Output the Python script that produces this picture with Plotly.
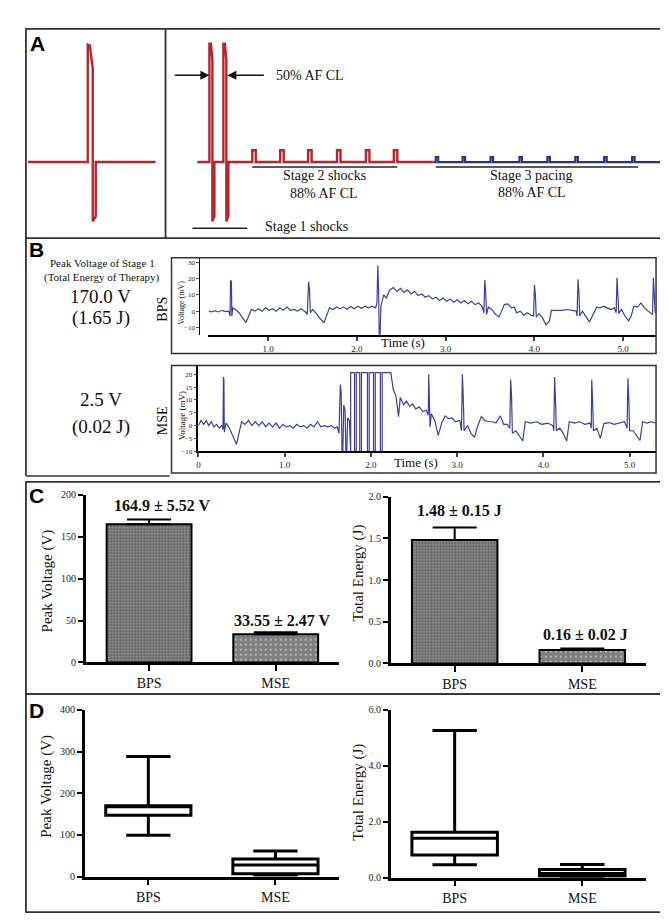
import plotly.graph_objects as go

W, H = 668, 924
def px(x): return x / W
def py(y): return 1 - y / H

SERIF = "Liberation Serif"
RED = "#b8262c"
NAVY = "#2b2f8f"
ECG = "#3d4199"

# ---------------- Panel A : schematic waveforms (arbitrary time / amplitude units)
single_shock_t = [2, 62, 62, 64, 67, 67, 70, 70, 130]
single_shock_v = [0, 0, 119, 118, 95, -60, -55, 0, 0]

stage1_onsets = [44, 58]
stage1_peak, stage1_tail, stage1_trough, stage1_trough_end = 120, 103, -60, -55
stage2_onsets = [87, 115, 143, 172, 201, 229]
stage2_amp = 12
stage3_onsets = [271, 298, 326, 355, 383, 411, 440, 468]
stage3_amp = 5
therapy_start, stage3_start, trace_end = 32, 269, 496

# ---------------- Panel B : electrograms (time s, voltage mV)
bps_trace = [(0.33,0),(0.36,-0.5),(0.40,0.3),(0.44,-0.5),(0.48,0.5),(0.52,-0.3),(0.555,0),(0.57,-3),(0.575,19),(0.585,18),(0.59,-3),
 (0.60,2),(0.63,1),(0.67,-1),(0.71,-4),(0.75,-7),(0.78,-3),(0.81,1),(0.85,0),(0.89,1.5),(0.93,0),(0.97,2),(1.01,0.5),(1.05,1.5),
 (1.09,0),(1.13,2),(1.17,0.5),(1.21,2.5),(1.25,0.5),(1.29,1),(1.33,0),(1.37,1.5),(1.41,0),(1.44,-2),(1.455,18),(1.465,13),(1.475,-1),
 (1.50,1),(1.55,-2),(1.59,-5),(1.63,-7),(1.66,-2),(1.69,2),(1.73,1),(1.77,2.5),(1.81,1.5),(1.85,2.5),(1.89,1.2),(1.93,2.8),(1.97,1.5),
 (2.01,3),(2.05,1.8),(2.09,3),(2.13,2),(2.17,3),(2.21,2),(2.225,5),(2.235,28),(2.245,10),(2.25,-14.5),(2.26,-14.5),(2.27,3),(2.30,10),
 (2.33,8),(2.37,13),(2.41,14.5),(2.45,12),(2.49,14),(2.53,11.5),(2.57,13),(2.61,10.5),(2.65,12),(2.69,9.5),(2.73,10.5),(2.77,8.5),
 (2.81,9.5),(2.85,7.5),(2.89,8.5),(2.93,6.5),(2.97,8),(3.01,6),(3.05,7.5),(3.09,5.5),(3.13,7),(3.17,5),(3.21,6.5),(3.25,4.5),(3.29,6),
 (3.33,4),(3.37,5),(3.41,3),(3.43,-1),(3.44,19),(3.45,12),(3.46,-2),(3.48,2.5),(3.52,1),(3.56,-2),(3.60,-3.5),(3.63,0),(3.66,4),
 (3.70,4.5),(3.74,2),(3.77,2.5),(3.80,-1),(3.84,0),(3.88,-2.5),(3.92,-1),(3.96,-2.5),(3.99,-3),(4.00,16),(4.01,10),(4.02,-3.5),
 (4.05,-1.5),(4.09,-4),(4.13,-8.5),(4.17,-6),(4.19,0.5),(4.25,0.5),(4.31,0.5),(4.37,1),(4.43,0.5),(4.47,0),(4.48,-3),(4.49,19.5),
 (4.50,12),(4.51,-3),(4.54,0),(4.58,-3),(4.62,-6.7),(4.66,-2),(4.70,2.4),(4.74,2),(4.78,3),(4.82,2),(4.86,1),(4.90,2),(4.92,-1),
 (4.93,20.5),(4.94,10),(4.95,-1.5),(4.98,1),(5.02,-3),(5.06,-6),(5.09,-3),(5.12,3),(5.16,2.5),(5.20,5),(5.24,2),(5.28,0),(5.31,-1),
 (5.33,-2),(5.34,20.5),(5.35,8),(5.36,-1),(5.37,0)]

mse_trace = [(0.00,0),(0.03,2),(0.06,0.5),(0.09,2),(0.12,0),(0.15,1.5),(0.18,-0.5),(0.21,0.5),(0.24,-1),(0.27,0),(0.285,-1.5),
 (0.29,19),(0.295,18),(0.30,-2.5),(0.32,1),(0.36,-1),(0.40,-4),(0.44,-7.3),(0.47,-3),(0.50,1.5),(0.54,0.5),(0.58,2),(0.62,0),
 (0.66,1.5),(0.70,0),(0.74,1.5),(0.78,-0.5),(0.82,1),(0.86,-0.5),(0.90,1),(0.94,-1),(0.98,0.5),(1.02,-0.5),(1.06,0),(1.10,-1),
 (1.14,0.5),(1.18,-0.5),(1.22,0),(1.26,-1),(1.30,0.5),(1.34,-0.5),(1.38,1.5),(1.42,-0.5),(1.46,0),(1.50,-0.5),(1.54,0),(1.58,-1),
 (1.61,-0.5),(1.63,-3),(1.645,16),(1.655,13),(1.665,-10),(1.675,-10),(1.685,8),(1.70,6),(1.71,-10),(1.72,-10),(1.73,3),(1.75,2),
 (1.765,-10),(1.765,20.7),(1.81,20.7),(1.81,-10),(1.83,-10),(1.83,20.7),(1.87,20.7),(1.87,-10),(1.89,-10),(1.89,20.7),(1.96,20.7),
 (1.96,-10),(1.98,-10),(1.98,20.7),(2.03,20.7),(2.03,-10),(2.05,-10),(2.05,20.7),(2.11,20.7),(2.11,-10),(2.13,-10),(2.13,20.7),
 (2.23,20.7),(2.26,14),(2.29,11.5),(2.32,3.5),(2.34,11),(2.38,8),(2.41,9.6),(2.45,7.5),(2.48,8.5),(2.52,6.5),(2.56,7.3),(2.60,5.5),
 (2.64,6),(2.665,4),(2.67,20),(2.675,14),(2.685,-0.5),(2.70,4.6),(2.74,2),(2.78,-3.8),(2.82,1),(2.86,3.8),(2.90,2.7),(2.94,3),
 (2.98,1.5),(3.03,2),(3.05,-2),(3.06,20),(3.07,12),(3.08,-2),(3.12,0),(3.16,-3),(3.20,-4.6),(3.24,0),(3.28,3.5),(3.32,2),(3.37,1.5),
 (3.41,1.5),(3.45,1),(3.50,3.8),(3.54,0.5),(3.58,0.5),(3.61,-1),(3.62,18),(3.63,12),(3.64,-3),(3.68,-2),(3.72,-4),(3.76,-6),
 (3.79,1.5),(3.85,1),(3.92,1.5),(3.98,0.5),(4.05,1),(4.11,0),(4.12,-2),(4.13,19),(4.14,10),(4.15,-2),(4.19,-1),(4.23,-3),(4.27,-6),
 (4.30,1.5),(4.36,1),(4.42,1.5),(4.48,0.5),(4.54,1),(4.555,-1),(4.56,18),(4.57,10),(4.58,-2),(4.62,-1),(4.66,-5),(4.70,0.8),
 (4.76,1.2),(4.82,0.5),(4.88,1),(4.94,1.5),(4.97,-1),(4.98,18.5),(4.99,10),(5.00,-2),(5.04,-2),(5.08,-4),(5.12,-5.8),(5.15,1.5),
 (5.20,1),(5.25,1.5),(5.31,1)]

bps_yticks = [-10, 0, 10, 20, 30]
mse_yticks = [-10, -5, 0, 5, 10, 15, 20]
time_ticks = [0, 1, 2, 3, 4, 5]
time_labels = ["0", "1.0", "2.0", "3.0", "4.0", "5.0"]

# ---------------- Panel C : mean ± SEM
groups = ["BPS", "MSE"]
peak_v_mean = [164.9, 33.55]
peak_v_sem = [5.52, 2.47]
energy_mean = [1.48, 0.16]
energy_sem = [0.15, 0.02]

# ---------------- Panel D : distributions
pv_q1 = [147, 7]
pv_median = [169, 28]
pv_q3 = [170, 42.5]
pv_low = [99, 4]
pv_high = [288, 61.5]
en_q1 = [0.81, 0.06]
en_median = [1.41, 0.15]
en_q3 = [1.62, 0.29]
en_low = [0.46, 0.02]
en_high = [5.26, 0.47]

fig = go.Figure()

def dom_x(a, b): return [px(a), px(b)]
def dom_y(top, bottom): return [py(bottom), py(top)]

hidden = dict(visible=False, showgrid=False, zeroline=False, fixedrange=True)

# ---- Panel A traces
fig.add_trace(go.Scatter(x=single_shock_t, y=single_shock_v, mode="lines",
                         line=dict(color=RED, width=2.4), xaxis="x", yaxis="y", hoverinfo="skip"))
rt, rv = [therapy_start], [0]
for o in stage1_onsets:
    rt += [o, o, o + 1.5, o + 3, o + 3, o + 5, o + 5]
    rv += [0, stage1_peak, stage1_peak, stage1_tail, stage1_trough, stage1_trough_end, 0]
for o in stage2_onsets:
    rt += [o, o, o + 3.5, o + 3.5]
    rv += [0, stage2_amp, stage2_amp, 0]
rt += [stage3_start]; rv += [0]
fig.add_trace(go.Scatter(x=rt, y=rv, mode="lines", line=dict(color=RED, width=2.4),
                         xaxis="x2", yaxis="y2", hoverinfo="skip"))
bt, bv = [stage3_start], [0]
for o in stage3_onsets:
    bt += [o, o, o + 2.5, o + 2.5]
    bv += [0, stage3_amp, stage3_amp, 0]
bt += [trace_end]; bv += [0]
fig.add_trace(go.Scatter(x=bt, y=bv, mode="lines", line=dict(color=NAVY, width=2.2),
                         xaxis="x2", yaxis="y2", hoverinfo="skip"))

# ---- Panel B traces
fig.add_trace(go.Scatter(x=[p[0] for p in bps_trace], y=[p[1] for p in bps_trace], mode="lines",
                         line=dict(color=ECG, width=1.2), xaxis="x3", yaxis="y3", hoverinfo="skip"))
fig.add_trace(go.Scatter(x=[p[0] for p in mse_trace], y=[p[1] for p in mse_trace], mode="lines",
                         line=dict(color=ECG, width=1.2), xaxis="x4", yaxis="y4", hoverinfo="skip"))

# ---- Panel C bars
bar_colors = ["#8c8c8c", "#ffffff"]
patterns = [dict(shape=".", size=3, solidity=0.4, fgcolor="#1a1a1a", fillmode="overlay"),
            dict(shape=".", size=5, solidity=0.85, fgcolor="#000000", fillmode="overlay")]
for xa, ya, vals, errs in [("x5", "y5", peak_v_mean, peak_v_sem), ("x6", "y6", energy_mean, energy_sem)]:
    for i, g in enumerate(groups):
        fig.add_trace(go.Bar(x=[g], y=[vals[i]], width=0.67, xaxis=xa, yaxis=ya,
                             marker=dict(color=bar_colors[i], line=dict(color="black", width=2),
                                         pattern=patterns[i]),
                             error_y=dict(type="data", symmetric=False, array=[errs[i]], arrayminus=[0],
                                          color="black", thickness=2, width=22),
                             hoverinfo="skip"))

# ---- Panel D boxes
fig.add_trace(go.Box(x=groups, q1=pv_q1, median=pv_median, q3=pv_q3, lowerfence=pv_low, upperfence=pv_high,
                     xaxis="x7", yaxis="y7", fillcolor="white", line=dict(color="black", width=3),
                     whiskerwidth=0.52, width=0.67, boxpoints=False, hoverinfo="skip"))
fig.add_trace(go.Box(x=groups, q1=en_q1, median=en_median, q3=en_q3, lowerfence=en_low, upperfence=en_high,
                     xaxis="x8", yaxis="y8", fillcolor="white", line=dict(color="black", width=3),
                     whiskerwidth=0.52, width=0.67, boxpoints=False, hoverinfo="skip"))

tickfont_mid = dict(family=SERIF, size=10, color="#222")
tickfont_cat = dict(family=SERIF, size=14, color="#111")

def stat_y(top, bottom, rng, tv, tt, anchor):
    return dict(domain=dom_y(top, bottom), range=rng, anchor=anchor, showgrid=False, zeroline=False, showline=True,
                linecolor="black", linewidth=2.5, ticks="outside", ticklen=5, tickwidth=2, tickcolor="black",
                tickvals=tv, ticktext=tt, tickfont=tickfont_mid, fixedrange=True)

def stat_x(a, b, anchor):
    return dict(domain=dom_x(a, b), anchor=anchor, type="category", range=[-0.5, 1.5], showgrid=False,
                zeroline=False, showline=True, linecolor="black", linewidth=2.5, ticks="outside", ticklen=6,
                tickwidth=2, tickcolor="black", tickfont=tickfont_cat, fixedrange=True)

fig.update_layout(
    width=W, height=H, margin=dict(l=0, r=0, t=0, b=0), paper_bgcolor="white", plot_bgcolor="rgba(0,0,0,0)",
    showlegend=False, barmode="overlay", font=dict(family=SERIF, color="#111"),
    xaxis=dict(domain=dom_x(16, 156), range=[0, 140], anchor="y", **hidden),
    yaxis=dict(domain=dom_y(15, 227), range=[-77, 135], anchor="x", **hidden),
    xaxis2=dict(domain=dom_x(156, 653), range=[0, 497], anchor="y2", **hidden),
    yaxis2=dict(domain=dom_y(15, 227), range=[-77, 135], anchor="x2", **hidden),
    xaxis3=dict(domain=dom_x(199, 648), range=[0.326, 5.37], anchor="y3", showgrid=False, zeroline=False,
                showline=True, linecolor="black", linewidth=2, ticks="outside", ticklen=4, tickwidth=1.5,
                tickvals=time_ticks[1:], ticktext=time_labels[1:], tickfont=dict(family=SERIF, size=9, color="#222"),
                fixedrange=True),
    yaxis3=dict(domain=dom_y(247, 325), range=[-14.5, 32.7], anchor="free", position=px(190), showgrid=False,
                zeroline=False, showline=True, linecolor="black", linewidth=1, ticks="outside", ticklen=3,
                tickvals=bps_yticks, tickfont=dict(family=SERIF, size=7, color="#222"), fixedrange=True),
    xaxis4=dict(domain=dom_x(189, 648), range=[0, 5.306], anchor="y4", showgrid=False, zeroline=False,
                showline=True, linecolor="black", linewidth=2, ticks="outside", ticklen=4, tickwidth=1.5,
                tickvals=time_ticks, ticktext=time_labels, tickfont=dict(family=SERIF, size=9, color="#222"),
                fixedrange=True),
    yaxis4=dict(domain=dom_y(356, 443), range=[-10, 23.5], anchor="x4", showgrid=False, zeroline=False,
                showline=True, linecolor="black", linewidth=1.5, ticks="outside", ticklen=3,
                tickvals=mse_yticks, tickfont=dict(family=SERIF, size=7, color="#222"), fixedrange=True),
    xaxis5=stat_x(76, 330, "y5"),
    yaxis5=stat_y(487, 657, [0, 200], [0, 50, 100, 150, 200], ["0", "50", "100", "150", "200"], "x5"),
    xaxis6=stat_x(382, 638, "y6"),
    yaxis6=stat_y(489, 658, [0, 2], [0, 0.5, 1, 1.5, 2], ["0.0", "0.5", "1.0", "1.5", "2.0"], "x6"),
    xaxis7=stat_x(75, 330, "y7"),
    yaxis7=stat_y(705, 874, [0, 400], [0, 100, 200, 300, 400], ["0", "100", "200", "300", "400"], "x7"),
    xaxis8=stat_x(382, 638, "y8"),
    yaxis8=stat_y(705, 875, [0, 6], [0, 2, 4, 6], ["0.0", "2.0", "4.0", "6.0"], "x8"),
)

# ---- frames
shapes = []
def rect(x0, y0, x1, y1, w=1.8, c="#333"):
    shapes.append(dict(type="rect", xref="paper", yref="paper", x0=px(x0), x1=px(x1), y0=py(y1), y1=py(y0),
                       line=dict(color=c, width=w), layer="below"))
def hline(x0, x1, y, w=1.8, c="#333"):
    shapes.append(dict(type="line", xref="paper", yref="paper", x0=px(x0), x1=px(x1), y0=py(y), y1=py(y),
                       line=dict(color=c, width=w)))
def vline(x, y0, y1, w=1.8, c="#333"):
    shapes.append(dict(type="line", xref="paper", yref="paper", x0=px(x), x1=px(x), y0=py(y0), y1=py(y1),
                       line=dict(color=c, width=w)))

rect(16, 15, 653, 227)
vline(156, 15, 227)
vline(16, 227, 468)
vline(653, 227, 474)
hline(16, 160, 468, w=2, c="#666")
rect(162, 247, 648, 344, w=1.5)
rect(162, 356, 648, 465, w=1.5)
rect(16, 474, 653, 689)
rect(16, 689, 653, 910)

# stage bracket lines in panel A data coordinates
bracket_y = -5
shapes.append(dict(type="line", xref="x2", yref="y2", x0=stage2_onsets[0], x1=stage2_onsets[-1] + 3.5,
                   y0=bracket_y, y1=bracket_y, line=dict(color="#222", width=1.5)))
shapes.append(dict(type="line", xref="x2", yref="y2", x0=stage3_onsets[0], x1=stage3_onsets[-1] + 6,
                   y0=bracket_y, y1=bracket_y, line=dict(color="#222", width=1.5)))
shapes.append(dict(type="line", xref="x2", yref="y2", x0=stage1_onsets[0] - 17, x1=stage1_onsets[-1] + 24,
                   y0=-67, y1=-67, line=dict(color="#222", width=1.5)))
fig.update_layout(shapes=shapes)

ann = []
def text(x, y, s, size=13, bold=False, anchor="center", angle=0, family=SERIF, color="#111"):
    ann.append(dict(xref="paper", yref="paper", x=px(x), y=py(y), text=("<b>%s</b>" % s) if bold else s,
                    showarrow=False, xanchor=anchor, yanchor="middle", textangle=angle,
                    font=dict(family=family, size=size, color=color)))

# panel letters
for L, (lx, ly) in {"A": (18, 30), "B": (17, 239), "C": (17, 488), "D": (17, 706)}.items():
    text(lx, ly, L, size=21, bold=True, anchor="left", family="Liberation Sans", color="#000")

# panel A labels
text(265, 62, "50% AF CL", size=14, anchor="left")
text(315, 164, "Stage 2 shocks", size=14)
text(315, 182, "88% AF CL", size=14)
text(523, 164, "Stage 3 pacing", size=14)
text(524, 181, "88% AF CL", size=14)
text(297, 215, "Stage 1 shocks", size=14)
ann.append(dict(xref="paper", yref="paper", x=px(200), y=py(62), ax=-36, ay=0, axref="pixel", ayref="pixel",
                text="", showarrow=True, arrowhead=2, arrowsize=1.2, arrowwidth=1.5, arrowcolor="#111"))
ann.append(dict(xref="paper", yref="paper", x=px(218), y=py(62), ax=38, ay=0, axref="pixel", ayref="pixel",
                text="", showarrow=True, arrowhead=2, arrowsize=1.2, arrowwidth=1.5, arrowcolor="#111"))

# panel B labels
text(93, 252, "Peak Voltage of Stage 1", size=11)
text(92, 267, "(Total Energy of Therapy)", size=11)
text(91, 286, "170.0 V", size=19)
text(91, 308, "(1.65 J)", size=19)
text(91, 391, "2.5 V", size=19)
text(91, 418, "(0.02 J)", size=19)
text(153, 299, "BPS", size=14, angle=-90)
text(153, 412, "MSE", size=14, angle=-90)
text(172, 292, "Voltage (mV)", size=8, angle=-90)
text(172, 407, "Voltage (mV)", size=9, angle=-90)
text(394, 333, "Time (s)", size=13)
text(407, 454, "Time (s)", size=13)

# panel C / D labels
text(38, 574, "Peak Voltage (V)", size=15, angle=-90)
text(350, 566, "Total Energy (J)", size=15, angle=-90)
text(37, 782, "Peak Voltage (V)", size=15, angle=-90)
text(350, 788, "Total Energy (J)", size=15, angle=-90)
text(152, 498, "%.1f ± %.2f V" % (peak_v_mean[0], peak_v_sem[0]), size=16, bold=True)
text(273, 614, "%.2f ± %.2f V" % (peak_v_mean[1], peak_v_sem[1]), size=16, bold=True)
text(451, 503, "%.2f ± %.2f J" % (energy_mean[0], energy_sem[0]), size=16, bold=True)
text(577, 629, "%.2f ± %.2f J" % (energy_mean[1], energy_sem[1]), size=16, bold=True)

fig.update_layout(annotations=ann)
fig.write_html("out.html")
